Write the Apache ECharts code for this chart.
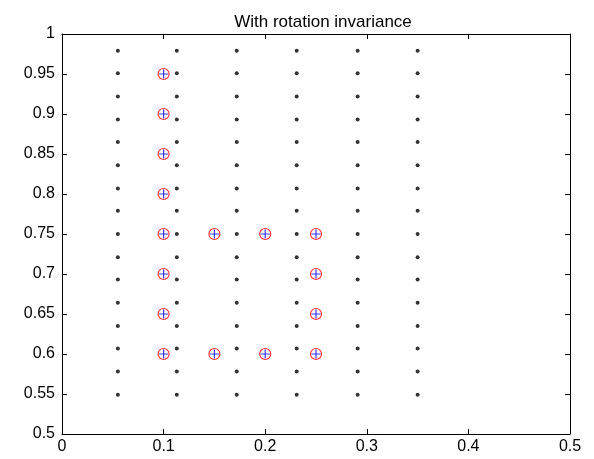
<!DOCTYPE html>
<html>
<head>
<meta charset="utf-8">
<script src="https://cdn.jsdelivr.net/npm/echarts@6/dist/echarts.min.js"></script>
<style>
  html, body { margin: 0; padding: 0; background: #fff; }
  #chart { width: 594px; height: 459px; }
</style>
</head>
<body>
<div id="chart"></div>
<script>
// grid of black dots (columns x rows)
var dotX = [0.055, 0.113, 0.172, 0.231, 0.291, 0.350];
var dotY = [0.549, 0.578, 0.607, 0.635, 0.664, 0.693, 0.721, 0.750,
            0.779, 0.807, 0.836, 0.865, 0.893, 0.922, 0.951, 0.979];

// marked points (red circle + blue plus)
var markX = [0.10, 0.10, 0.10, 0.10, 0.10, 0.10, 0.10, 0.10,
             0.15, 0.20, 0.25, 0.25, 0.25, 0.25, 0.20, 0.15];
var markY = [0.60, 0.65, 0.70, 0.75, 0.80, 0.85, 0.90, 0.95,
             0.75, 0.75, 0.75, 0.70, 0.65, 0.60, 0.60, 0.60];

var xTicks = [0, 0.1, 0.2, 0.3, 0.4, 0.5];
var yTicks = [0.5, 0.55, 0.6, 0.65, 0.7, 0.75, 0.8, 0.85, 0.9, 0.95, 1];

var dots = [];
dotX.forEach(function (x) {
  dotY.forEach(function (y) { dots.push([x, y]); });
});
var marks = markX.map(function (x, i) { return [x, markY[i]]; });

var font = 'Liberation Sans, Arial, sans-serif';

function axisBase(pos, isX, showLabel) {
  var ticks = isX ? xTicks : yTicks;
  return {
    type: 'value',
    position: pos,
    min: ticks[0],
    max: ticks[ticks.length - 1],
    interval: isX ? 0.1 : 0.05,
    splitLine: { show: false },
    axisLine: { show: true, onZero: false, lineStyle: { color: '#000', width: 1 } },
    axisTick: { show: true, inside: true, length: 5, lineStyle: { color: '#000' } },
    axisLabel: {
      show: showLabel,
      color: '#000',
      fontFamily: font,
      fontSize: 16,
      margin: isX ? 5 : 7,
      showMinLabel: true,
      showMaxLabel: true
    }
  };
}

var chart = echarts.init(document.getElementById('chart'));
chart.setOption({
  animation: false,
  backgroundColor: '#fff',
  title: {
    text: 'With rotation invariance',
    left: 318,
    textAlign: 'center',
    top: 9,
    textStyle: { fontFamily: font, fontSize: 17, fontWeight: 'normal', color: '#000' }
  },
  grid: { left: 62, right: 24, top: 34, bottom: 25, containLabel: false },
  xAxis: [axisBase('bottom', true, true), axisBase('top', true, false)],
  yAxis: [axisBase('left', false, true), axisBase('right', false, false)],
  series: [
    {
      type: 'scatter',
      data: dots,
      symbol: 'circle',
      symbolSize: 4,
      itemStyle: { color: '#000' },
      z: 2
    },
    {
      type: 'scatter',
      data: marks,
      symbol: 'circle',
      symbolSize: 11,
      itemStyle: { color: 'transparent', borderColor: '#ff0000', borderWidth: 1.2 },
      z: 3
    },
    {
      type: 'scatter',
      data: marks,
      symbol: 'path://M5,0L5,10M0,5L10,5',
      symbolSize: 9,
      itemStyle: { color: 'transparent', borderColor: '#0000ff', borderWidth: 1.2 },
      z: 4
    }
  ]
});
</script>
</body>
</html>
